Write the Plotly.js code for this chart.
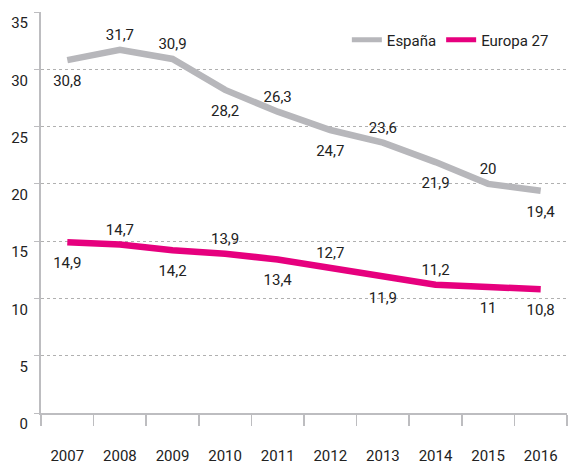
<!DOCTYPE html>
<html>
<head>
<meta charset="utf-8">
<script src="https://cdn.plot.ly/plotly-3.0.1.min.js"></script>
<style>html,body{margin:0;padding:0;background:#fff;}#chart{width:574px;height:465px;}</style>
</head>
<body>
<div id="chart"></div>
<script>
const years = ['2007','2008','2009','2010','2011','2012','2013','2014','2015','2016'];
const espana = [30.8, 31.7, 30.9, 28.2, 26.3, 24.7, 23.6, 21.9, 20, 19.4];
const europa = [14.9, 14.7, 14.2, 13.9, 13.4, 12.7, 11.9, 11.2, 11, 10.8];
const espanaPos = ['bottom center','top center','top center','bottom center','top center','bottom center','top center','bottom center','top center','bottom center'];
const europaPos = ['bottom center','top center','bottom center','top center','bottom center','top center','bottom center','top center','bottom center','bottom center'];

const FONT = 'Roboto, "Liberation Sans", sans-serif';
const fmt = v => String(v).replace('.', ',');

function series(name, ys, pos, color) {
  return {
    x: years, y: ys, name: name, type: 'scatter', mode: 'lines+markers+text',
    line: {color: color, width: 6.5},
    // invisible markers only used to push the value labels away from the line
    marker: {size: pos.map(p => p.startsWith('top') ? 8 : 22), color: 'rgba(0,0,0,0)', line: {width: 0}},
    text: ys.map(fmt), textposition: pos,
    textfont: {family: FONT, size: 15, color: '#222'},
    cliponaxis: false, hoverinfo: 'skip'
  };
}

const traces = [
  series('España', espana, espanaPos, '#b7b7bb'),
  series('Europa 27', europa, europaPos, '#e6007e')
];

const layout = {
  width: 574, height: 465,
  margin: {l: 41, r: 7, t: 12, b: 52},
  paper_bgcolor: '#fff', plot_bgcolor: '#fff',
  font: {family: FONT, size: 15, color: '#222'},
  showlegend: true,
  legend: {orientation: 'h', x: 0.975, xanchor: 'right', y: 0.93, yanchor: 'middle',
           font: {family: FONT, size: 15, color: '#222'}, bgcolor: 'rgba(0,0,0,0)',
           itemsizing: 'constant'},
  xaxis: {
    type: 'category', range: [-0.5, 9.5],
    showgrid: false, zeroline: false,
    showline: true, linecolor: '#bdbdc0', linewidth: 1.5,
    ticks: 'outside', tickson: 'boundaries', ticklen: 11, tickcolor: '#bdbdc0', tickwidth: 1.5,
    ticklabelstandoff: 28,
    tickfont: {family: FONT, size: 15, color: '#222'}
  },
  yaxis: {
    range: [0, 35], dtick: 5, tick0: 0,
    showgrid: true, gridcolor: '#b0b0b0', griddash: 'dot', gridwidth: 1,
    zeroline: false,
    showline: true, linecolor: '#bdbdc0', linewidth: 2,
    ticks: 'outside', ticklen: 5, tickcolor: '#bdbdc0', tickwidth: 1,
    ticklabelposition: 'outside bottom',
    ticklabelstandoff: 8,
    tickfont: {family: FONT, size: 15, color: '#222'}
  }
};

Plotly.newPlot('chart', traces, layout, {displayModeBar: false, staticPlot: true});
</script>
</body>
</html>
